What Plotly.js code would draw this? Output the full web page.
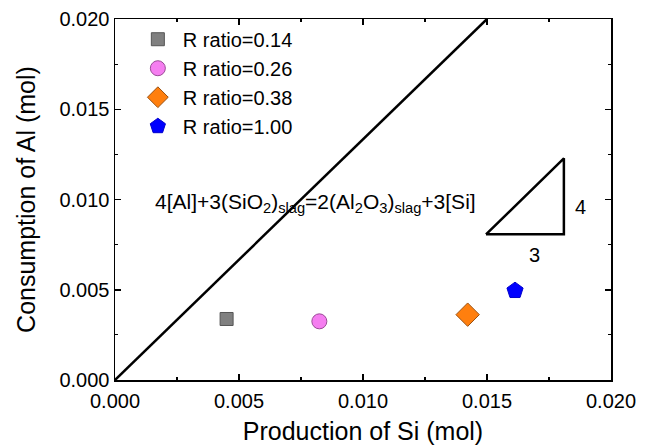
<!DOCTYPE html>
<html><head><meta charset="utf-8">
<script src="https://cdn.plot.ly/plotly-3.0.1.min.js"></script>
<style>body{margin:0;background:#fff}#c{width:652px;height:447px}</style>
</head><body><div id="c"></div>
<script>
const seriesNames = ['R ratio=0.14','R ratio=0.26','R ratio=0.38','R ratio=1.00'];
const siProduction = [0.00450, 0.00824, 0.01422, 0.01613];
const alConsumption = [0.00338, 0.00325, 0.00362, 0.00495];
const symbols = ['square','circle','diamond','pentagon'];
const colors = ['#808080','#f57ef0','#ff7f0e','#0000ff'];
const edgeColors = ['#555555','#9a4a96','#9a5010','#0000cc'];
const sizes = [13, 15, 18, 17];
const lineX = [0, 0.015];
const lineY = [0, 0.02];
const triX = [0.01496, 0.01810, 0.01810, 0.01496];
const triY = [0.00807, 0.00807, 0.01228, 0.00807];
const xTicks = [0, 0.005, 0.010, 0.015, 0.020];
const xTickText = ['0.000','0.005','0.010','0.015','0.020'];
const yTicks = [0, 0.005, 0.010, 0.015, 0.020];
const yTickText = ['0.000','0.005','0.010','0.015','0.020'];

const traces = [];
traces.push({x: lineX, y: lineY, mode:'lines', line:{color:'#000', width:2.5}, showlegend:false, hoverinfo:'skip'});
traces.push({x: triX, y: triY, mode:'lines', line:{color:'#000', width:2.5}, showlegend:false, hoverinfo:'skip'});
for (let i=0;i<seriesNames.length;i++){
  traces.push({x:[siProduction[i]], y:[alConsumption[i]], mode:'markers', name:seriesNames[i],
    legendgroup:'g'+i,
    marker:{symbol:symbols[i], color:colors[i], size:sizes[i], line:{color:edgeColors[i], width:1}}});
}
const axisCommon = {range:[0,0.02], showgrid:false, zeroline:false, showline:true, linecolor:'#000', linewidth:1.5,
  mirror:'allticks', ticks:'inside', ticklen:6, tickwidth:1.5, tickcolor:'#000',
  tickfont:{family:'Liberation Sans, Arial', size:20, color:'#000'},
  minor:{dtick:0.0025, ticks:'inside', ticklen:3, tickwidth:1.2, tickcolor:'#000'}};
const layout = {
  width:652, height:447, margin:{l:115, r:41, t:19, b:67},
  paper_bgcolor:'#fff', plot_bgcolor:'#fff',
  font:{family:'Liberation Sans, Arial', color:'#000'},
  xaxis: Object.assign({}, axisCommon, {tickvals:xTicks, ticktext:xTickText, ticklabelstandoff:2,
    title:{text:'Production of Si (mol)', font:{size:25}, standoff:12}}),
  yaxis: Object.assign({}, axisCommon, {tickvals:yTicks, ticktext:yTickText,
    title:{text:'Consumption of Al (mol)', font:{size:25}, standoff:16}}),
  legend:{x:0.036, y:0.998, xanchor:'left', yanchor:'top', bgcolor:'rgba(0,0,0,0)',
    font:{size:20, family:'Liberation Sans, Arial'}, tracegroupgap:0, itemwidth:40},
  showlegend:true,
  annotations:[
    {x:0.0081, y:0.0098, xref:'x', yref:'y', showarrow:false,
     text:'4[Al]+3(SiO<sub>2</sub>)<sub>slag</sub>=2(Al<sub>2</sub>O<sub>3</sub>)<sub>slag</sub>+3[Si]',
     font:{size:21, color:'#000'}},
    {x:0.01875, y:0.0096, xref:'x', yref:'y', showarrow:false, text:'4', font:{size:20, color:'#000'}},
    {x:0.01690, y:0.00695, xref:'x', yref:'y', showarrow:false, text:'3', font:{size:20, color:'#000'}}
  ]
};
Plotly.newPlot('c', traces, layout, {staticPlot:true});
</script></body></html>
